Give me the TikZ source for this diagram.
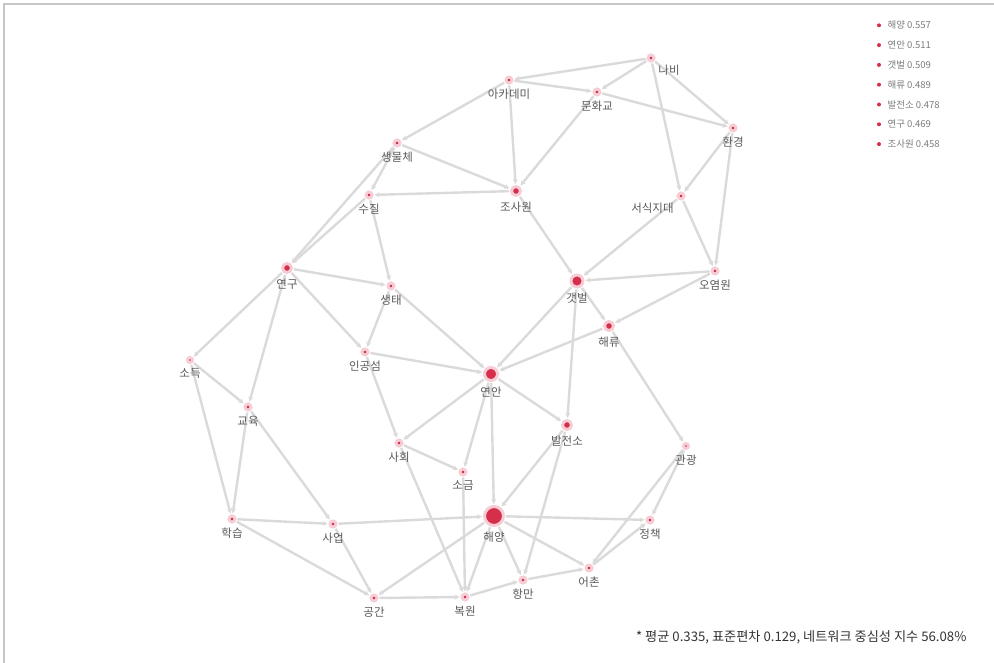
\documentclass[tikz,border=0pt]{standalone}
\usepackage{fontspec}
\newfontfamily\kr{Noto Sans CJK KR}
\usetikzlibrary{arrows.meta,backgrounds}
\definecolor{nodered}{HTML}{D62F4B}
\definecolor{halo}{HTML}{F6CCD5}
\definecolor{edgegray}{HTML}{DADADA}
\definecolor{txtgray}{HTML}{5A5A5A}

\begin{document}
\begin{tikzpicture}[x=1pt,y=-1pt,
	dot/.style={circle,fill=nodered,draw=halo,line width=3pt,inner sep=0pt,minimum size=#1},
	dot/.default=6pt,
	lbl/.style={font=\kr\fontsize{11.5}{11.5}\selectfont,text=txtgray,label distance=1pt},
	link/.style={draw=edgegray,line width=2.4pt,-{Stealth[length=5pt,width=5pt]},shorten >=1pt,shorten <=1pt},
	key/.style={font=\kr\fontsize{9.5}{9.5}\selectfont,text=txtgray!80,anchor=west}]
	\useasboundingbox (0,0) rectangle (994,663);
	\draw[gray!45,line width=1.4pt] (4,663) -- (4,4) -- (994,4);

	% nodes
	\node[dot,label={[lbl]below right:나비}] (nabi) at (651,58) {};
	\node[dot,label={[lbl]below:아카데미}] (academy) at (509,80) {};
	\node[dot,label={[lbl]below:문화교}] (munhwa) at (597,92) {};
	\node[dot,label={[lbl]below:환경}] (hwangyeong) at (733,128) {};
	\node[dot,label={[lbl]below:생물체}] (saengmul) at (397,143) {};
	\node[dot,label={[lbl]below:수질}] (sujil) at (369,195) {};
	\node[dot=9pt,label={[lbl]below:조사원}] (josawon) at (516,191) {};
	\node[dot,label={[lbl]below left:서식지대}] (seosik) at (681,196) {};
	\node[dot=9pt,label={[lbl]below:연구}] (yeongu) at (287,268) {};
	\node[dot=12pt,label={[lbl]below:갯벌}] (gaetbeol) at (577,281) {};
	\node[dot,label={[lbl]below:오염원}] (oyeom) at (715,271) {};
	\node[dot,label={[lbl]below:생태}] (saengtae) at (391,286) {};
	\node[dot=9pt,label={[lbl]below:해류}] (haeryu) at (609,326) {};
	\node[dot,label={[lbl]below:인공섬}] (ingong) at (365,352) {};
	\node[dot=13pt,label={[lbl]below:연안}] (yeonan) at (491,374) {};
	\node[dot=5pt,label={[lbl]below:소득}] (sodeuk) at (190,360) {};
	\node[dot,label={[lbl]below:교육}] (gyoyuk) at (248,407) {};
	\node[dot=5pt,label={[lbl]below:관광}] (gwangwang) at (686,446) {};
	\node[dot,label={[lbl]below:사회}] (sahoe) at (399,443) {};
	\node[dot=9pt,label={[lbl]below:발전소}] (baljeon) at (567,425) {};
	\node[dot,label={[lbl]below:소금}] (sogeum) at (463,472) {};
	\node[dot=19pt,label={[lbl]below:해양}] (haeyang) at (494,516) {};
	\node[dot,label={[lbl]below:학습}] (hakseup) at (232,519) {};
	\node[dot,label={[lbl]below:사업}] (saeop) at (333,524) {};
	\node[dot,label={[lbl]below:정책}] (jeongchaek) at (650,520) {};
	\node[dot,label={[lbl]below:어촌}] (eochon) at (589,568) {};
	\node[dot,label={[lbl]below:항만}] (hangman) at (523,580) {};
	\node[dot,label={[lbl]below:복원}] (bokwon) at (465,597) {};
	\node[dot,label={[lbl]below:공간}] (gonggan) at (374,598) {};

	% links
	\begin{pgfonlayer}{background}
	\foreach \a/\b in {nabi/academy,academy/munhwa,nabi/munhwa,nabi/hwangyeong,munhwa/hwangyeong,
		nabi/seosik,hwangyeong/seosik,hwangyeong/oyeom,seosik/oyeom,seosik/gaetbeol,oyeom/gaetbeol,
		oyeom/haeryu,academy/saengmul,academy/josawon,munhwa/josawon,saengmul/josawon,josawon/sujil,
		saengmul/sujil,saengmul/yeongu,sujil/yeongu,sujil/saengtae,josawon/gaetbeol,yeongu/saengtae,
		yeongu/ingong,yeongu/sodeuk,yeongu/gyoyuk,saengtae/ingong,saengtae/yeonan,ingong/yeonan,
		gaetbeol/yeonan,haeryu/yeonan,gaetbeol/haeryu,gaetbeol/baljeon,haeryu/gwangwang,
		yeonan/baljeon,yeonan/sahoe,yeonan/haeyang,yeonan/sogeum,ingong/sahoe,sahoe/sogeum,
		sahoe/bokwon,sogeum/bokwon,baljeon/haeyang,baljeon/hangman,saeop/haeyang,haeyang/jeongchaek,
		haeyang/eochon,haeyang/hangman,haeyang/bokwon,haeyang/gonggan,gwangwang/jeongchaek,
		gwangwang/eochon,eochon/jeongchaek,hangman/eochon,bokwon/hangman,gonggan/bokwon,
		saeop/gonggan,hakseup/saeop,hakseup/gonggan,sodeuk/hakseup,gyoyuk/hakseup,gyoyuk/saeop,
		sodeuk/gyoyuk}
		\draw[link] (\a) -- (\b);
	\end{pgfonlayer}

	% legend
	\foreach \t [count=\i] in {해양 0.557,연안 0.511,갯벌 0.509,해류 0.489,발전소 0.478,연구 0.469,조사원 0.458}{
		\node[circle,fill=nodered,inner sep=0pt,minimum size=4pt] (k\i) at (879,{5.5+19.8*\i}) {};
		\node[key] (t\i) at (884,{5.5+19.8*\i}) {\t};
	}

	\node[anchor=east,font=\kr\fontsize{13.2}{13.2}\selectfont,text=black!80] (note) at (970,637)
		{* 평균 0.335, 표준편차 0.129, 네트워크 중심성 지수 56.08\%};
\end{tikzpicture}
\end{document}
